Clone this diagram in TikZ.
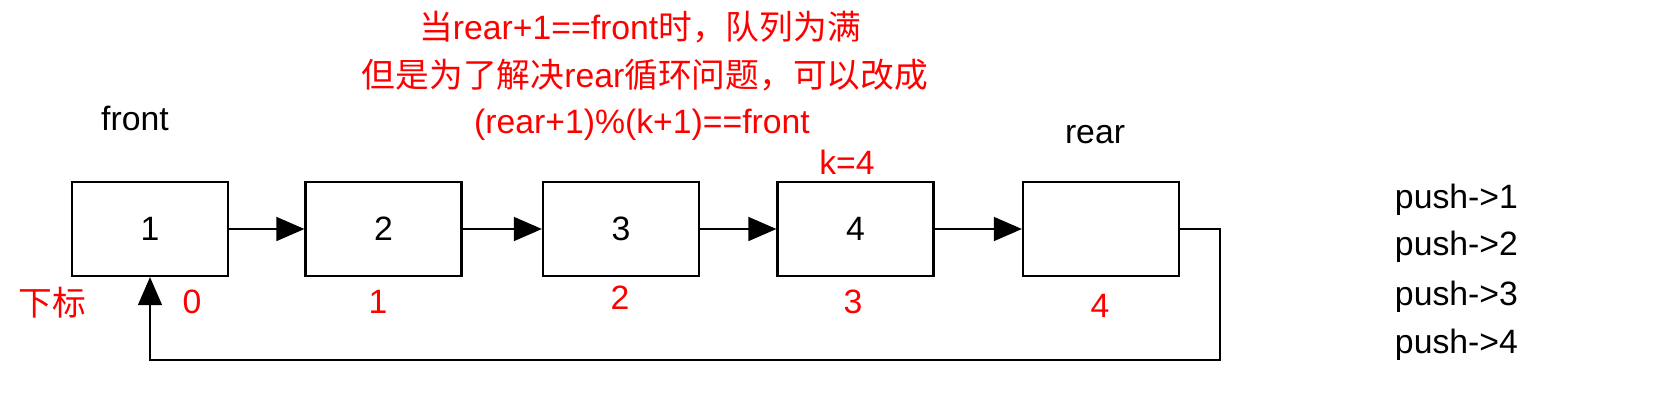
\documentclass[tikz,border=0pt]{standalone}
\usepackage{fontspec}
\setmainfont{Liberation Sans}
\newfontfamily\cjk{Noto Sans CJK SC}
\usetikzlibrary{arrows.meta}
\definecolor{myred}{RGB}{255,0,0}
\begin{document}
\begin{tikzpicture}[x=0.025cm,y=-0.025cm,
  cell/.style={draw,line width=1.5pt,minimum width=3.9cm,minimum height=2.35cm,inner sep=0pt,font=\fontsize{24}{28}\selectfont},
  lab/.style={font=\fontsize{24}{28}\selectfont},
  rlab/.style={text=myred,font=\fontsize{24}{28}\selectfont},
  conn/.style={line width=1.5pt,-{Triangle[length=20pt,width=17pt]}}]
\useasboundingbox (0,0) rectangle (1661,403);
\node[cell] (b1) at (150,229) {1};
\node[cell] (b2) at (383.5,229) {2};
\node[cell] (b3) at (621,229) {3};
\node[cell] (b4) at (855.5,229) {4};
\node[cell] (b5) at (1101,229) {};
\draw[conn] (b1) -- (b2);
\draw[conn] (b2) -- (b3);
\draw[conn] (b3) -- (b4);
\draw[conn] (b4) -- (b5);
\coordinate (c1) at (1220,229);
\coordinate (c2) at (1220,360);
\coordinate (c3) at (150,360);
\draw[conn] (b5.east) -- (c1) -- (c2) -- (c3) -- (b1.south);
\node[lab] (f) at (135,118) {front};
\node[lab] (r) at (1095,135) {rear};
\node[rlab] (t1) at (640,27) {{\cjk 当}rear+1==front{\cjk 时，队列为满}};
\node[rlab] (t2) at (645,75) {{\cjk 但是为了解决}rear{\cjk 循环问题，可以改成}};
\node[rlab] (t3) at (642,125) {(rear+1)\%(k+1)==front};
\node[rlab] (k) at (847,162) {k=4};
\node[rlab] (i0) at (192,302) {0};
\node[rlab] (i1) at (378,302) {1};
\node[rlab] (i2) at (620,298) {2};
\node[rlab] (i3) at (853,302) {3};
\node[rlab] (i4) at (1100,306) {4};
\node[rlab] (xb) at (52,303) {\cjk 下标};
\node[lab,anchor=west] (p1) at (1390,200) {push->1};
\node[lab,anchor=west] (p2) at (1390,247) {push->2};
\node[lab,anchor=west] (p3) at (1390,297) {push->3};
\node[lab,anchor=west] (p4) at (1390,345) {push->4};
\end{tikzpicture}
\end{document}
